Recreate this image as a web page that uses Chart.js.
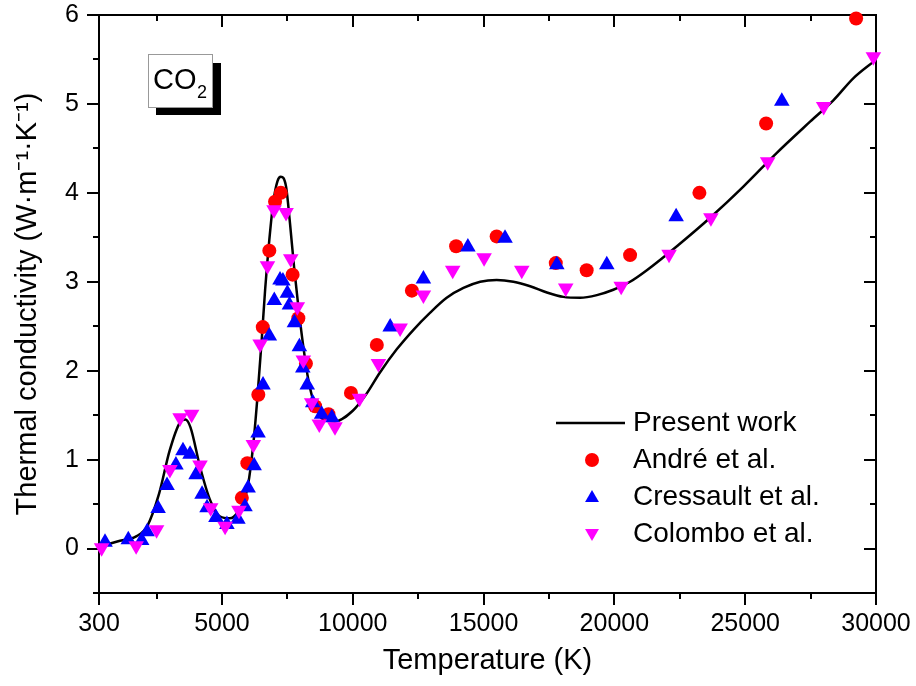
<!DOCTYPE html>
<html>
<head>
<meta charset="utf-8">
<script src="https://cdn.jsdelivr.net/npm/chart.js@4.4.1/dist/chart.umd.min.js"></script>
<style>
  body { margin: 0; background: #fff; }
  canvas { display: block; }
</style>
</head>
<body>
<canvas id="myChart" width="916" height="686"></canvas>
<script>
// thermal conductivity of CO2 plasma vs temperature
const presentT = [300, 1000, 1740, 2140, 2600, 3000, 3400, 3600, 3800, 4160, 4540, 4930, 5300, 5580, 5960, 6190, 6350, 6520, 6650, 6810, 6960, 7120, 7250, 7450, 7600, 7755, 7920, 8110, 8300, 8560, 8880, 9320, 10000, 10500, 11040, 11680, 12320, 12950, 13590, 14230, 14870, 15500, 16140, 16780, 17420, 18050, 18690, 19330, 19960, 20600, 21240, 22390, 23660, 24930, 26210, 27480, 28370, 29140, 29970];
const presentK = [0.02, 0.08, 0.14, 0.25, 0.62, 1.10, 1.42, 1.45, 1.36, 0.92, 0.55, 0.36, 0.34, 0.40, 0.66, 1.15, 1.68, 2.35, 2.91, 3.47, 3.89, 4.13, 4.18, 4.07, 3.66, 3.17, 2.72, 2.27, 1.90, 1.60, 1.45, 1.43, 1.55, 1.73, 1.98, 2.24, 2.46, 2.65, 2.82, 2.93, 3.00, 3.02, 3.00, 2.95, 2.88, 2.83, 2.82, 2.85, 2.91, 3.00, 3.13, 3.40, 3.72, 4.07, 4.45, 4.80, 5.04, 5.29, 5.49];

const andreT = [5760, 5970, 6390, 6560, 6810, 7030, 7250, 7700, 7920, 8210, 8560, 9070, 9930, 10920, 12260, 13950, 15500, 17760, 18940, 20600, 23250, 25800, 29240];
const andreK = [0.57, 0.96, 1.73, 2.49, 3.35, 3.90, 4.00, 3.08, 2.59, 2.08, 1.60, 1.51, 1.75, 2.29, 2.90, 3.40, 3.51, 3.21, 3.13, 3.30, 4.00, 4.78, 5.96];

const cressaultT = [530, 1420, 1930, 2140, 2560, 2900, 3240, 3510, 3780, 4010, 4240, 4430, 4770, 5190, 5610, 5880, 6000, 6230, 6380, 6570, 6810, 7000, 7220, 7330, 7500, 7580, 7770, 7960, 8090, 8260, 8470, 8810, 9200, 11430, 12700, 14400, 15820, 17800, 19710, 22360, 26400];
const cressaultK = [0.07, 0.10, 0.09, 0.19, 0.45, 0.71, 0.94, 1.10, 1.06, 0.83, 0.61, 0.46, 0.35, 0.27, 0.33, 0.47, 0.68, 0.93, 1.30, 1.84, 2.39, 2.79, 3.02, 3.01, 2.87, 2.74, 2.54, 2.27, 2.03, 1.84, 1.64, 1.51, 1.47, 2.49, 3.03, 3.39, 3.49, 3.19, 3.19, 3.73, 5.03];

const colomboT = [400, 1720, 2500, 3010, 3400, 3840, 4160, 4570, 5120, 5650, 6200, 6460, 6740, 6990, 7450, 7630, 7880, 8110, 8430, 8720, 9320, 10260, 10980, 11810, 12700, 13820, 15020, 16460, 18140, 20260, 22090, 23690, 25860, 28000, 29900];
const colomboK = [0.01, 0.03, 0.21, 0.89, 1.47, 1.51, 0.94, 0.46, 0.25, 0.43, 1.17, 2.30, 3.18, 3.81, 3.78, 3.26, 2.72, 2.12, 1.64, 1.40, 1.37, 1.69, 2.08, 2.48, 2.85, 3.13, 3.27, 3.13, 2.93, 2.95, 3.31, 3.72, 4.35, 4.97, 5.53];

const xTicks = [300, 5000, 10000, 15000, 20000, 25000, 30000];
const xMinor = [2500, 7500, 12500, 17500, 22500, 27500];
const yTicks = [0, 1, 2, 3, 4, 5, 6];
const yMinor = [-0.5, 0.5, 1.5, 2.5, 3.5, 4.5, 5.5];

const FONT = '"Liberation Sans", Arial, sans-serif';
Chart.defaults.font.family = FONT;
Chart.defaults.color = '#000';

function pts(xs, ys) {
    return xs.map((v, i) => ({ x: v, y: ys[i] }));
}

// box frame with Origin-like ticks (out on bottom/left, in on top/right)
const frame = {
    id: 'frame',
    beforeDatasetsDraw(chart) {
        const ctx = chart.ctx, a = chart.chartArea;
        const sx = chart.scales.x, sy = chart.scales.y;
        ctx.save();
        ctx.strokeStyle = '#000';
        ctx.lineWidth = 2;
        ctx.strokeRect(a.left, a.top, a.right - a.left, a.bottom - a.top);
        ctx.beginPath();
        const tx = (v, len) => {
            const p = Math.round(sx.getPixelForValue(v));
            ctx.moveTo(p, a.bottom); ctx.lineTo(p, a.bottom + len);
            ctx.moveTo(p, a.top); ctx.lineTo(p, a.top + len);
        };
        const ty = (v, len) => {
            const p = Math.round(sy.getPixelForValue(v));
            ctx.moveTo(a.left, p); ctx.lineTo(a.left - len, p);
            ctx.moveTo(a.right, p); ctx.lineTo(a.right - len, p);
        };
        xTicks.forEach(v => tx(v, 12));
        xMinor.forEach(v => tx(v, 6));
        yTicks.forEach(v => ty(v, 12));
        yMinor.forEach(v => ty(v, 6));
        ctx.stroke();
        ctx.restore();
    }
};

// legend block in the lower right of the plot
const legendBox = {
    id: 'legendBox',
    afterDraw(chart) {
        const ctx = chart.ctx;
        ctx.save();
        ctx.font = '28px ' + FONT;
        ctx.textBaseline = 'middle';
        chart.data.datasets.forEach((ds, i) => {
            const y = 423 + i * 37;
            if (ds.type === 'line') {
                ctx.strokeStyle = ds.borderColor;
                ctx.lineWidth = ds.borderWidth;
                ctx.beginPath();
                ctx.moveTo(556, y);
                ctx.lineTo(625, y);
                ctx.stroke();
            } else {
                ctx.fillStyle = ds.backgroundColor;
                Chart.helpers.drawPoint(ctx, {
                    pointStyle: ds.pointStyle,
                    rotation: ds.pointRotation || 0,
                    radius: ds.pointStyle === 'circle' ? 7 : 8,
                    borderWidth: 0
                }, 592, y + (ds.pointStyle === 'triangle' ? (ds.pointRotation ? -1 : 1) : 0));
            }
            ctx.fillStyle = '#000';
            ctx.fillText(ds.label, 633, y);
        });

        // CO2 tag with drop shadow
        ctx.fillStyle = '#000';
        ctx.fillRect(156, 63, 65, 52);
        ctx.fillStyle = '#fff';
        ctx.fillRect(148, 54, 64, 53);
        ctx.strokeStyle = '#999';
        ctx.lineWidth = 1;
        ctx.strokeRect(148.5, 54.5, 64, 53);
        ctx.fillStyle = '#000';
        ctx.textBaseline = 'alphabetic';
        ctx.font = '29px ' + FONT;
        ctx.fillText('CO', 153, 89);
        ctx.font = '18px ' + FONT;
        ctx.fillText('2', 197, 98);
        ctx.restore();
    }
};

const ctx = document.getElementById('myChart').getContext('2d');

const myChart = new Chart(ctx, {
    data: {
        datasets: [{
            type: 'line',
            label: 'Present work',
            data: pts(presentT, presentK),
            borderColor: '#000',
            borderWidth: 2.5,
            pointRadius: 0,
            cubicInterpolationMode: 'monotone',
            fill: false,
            order: 4
        }, {
            type: 'scatter',
            label: 'André et al.',
            data: pts(andreT, andreK),
            pointStyle: 'circle',
            pointRadius: 7,
            backgroundColor: '#ff0000',
            borderWidth: 0,
            clip: false,
            order: 3
        }, {
            type: 'scatter',
            label: 'Cressault et al.',
            data: pts(cressaultT, cressaultK),
            pointStyle: 'triangle',
            pointRadius: 9,
            backgroundColor: '#0000ff',
            borderWidth: 0,
            clip: false,
            order: 2
        }, {
            type: 'scatter',
            label: 'Colombo et al.',
            data: pts(colomboT, colomboK),
            pointStyle: 'triangle',
            pointRotation: 180,
            pointRadius: 9,
            backgroundColor: '#ff00ff',
            borderWidth: 0,
            clip: false,
            order: 1
        }]
    },
    options: {
        responsive: false,
        animation: false,
        layout: { padding: { top: 15, right: 40, left: 0, bottom: 0 } },
        plugins: {
            legend: { display: false },
            tooltip: { enabled: false }
        },
        scales: {
            x: {
                type: 'linear',
                min: 300,
                max: 30000,
                afterBuildTicks: s => { s.ticks = xTicks.map(v => ({ value: v })); },
                afterFit: s => {
                    s.height = 93;
                    s.paddingLeft = 0;
                    s.paddingRight = 0;
                },
                grid: { display: false, drawTicks: false },
                border: { display: false },
                ticks: {
                    font: { size: 25 },
                    padding: 16,
                    maxRotation: 0,
                    autoSkip: false,
                    callback: v => String(v)
                },
                title: {
                    display: true,
                    text: 'Temperature (K)',
                    font: { size: 29 },
                    padding: { top: 0, bottom: 8 }
                }
            },
            y: {
                type: 'linear',
                min: -0.5,
                max: 6,
                afterBuildTicks: s => { s.ticks = yTicks.map(v => ({ value: v })); },
                afterFit: s => {
                    s.width = 99;
                    s.paddingTop = 0;
                    s.paddingBottom = 0;
                },
                grid: { display: false, drawTicks: false },
                border: { display: false },
                ticks: {
                    font: { size: 25 },
                    padding: 20,
                    callback: v => String(v)
                },
                title: {
                    display: true,
                    text: 'Thermal conductivity (W·m⁻¹·K⁻¹)',
                    font: { size: 29 },
                    padding: { top: 11, bottom: 0 }
                }
            }
        }
    },
    plugins: [frame, legendBox]
});
</script>
</body>
</html>
